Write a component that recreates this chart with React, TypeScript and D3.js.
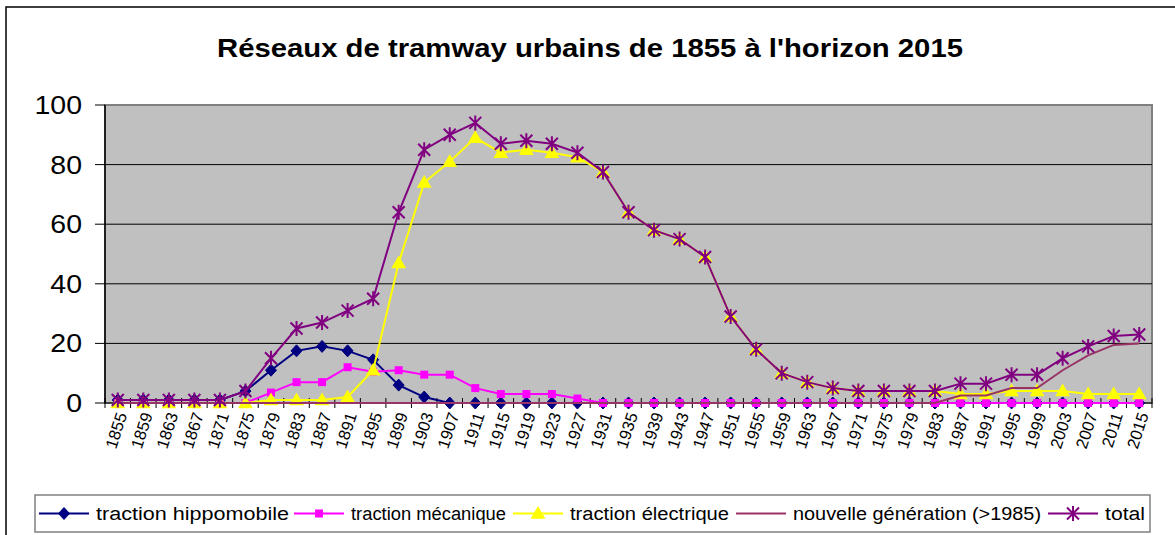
import React from "react";
import * as d3 from "d3";

const years = [
  "1855", "1859", "1863", "1867", "1871", "1875", "1879", "1883", "1887", "1891",
  "1895", "1899", "1903", "1907", "1911", "1915", "1919", "1923", "1927", "1931",
  "1935", "1939", "1943", "1947", "1951", "1955", "1959", "1963", "1967", "1971",
  "1975", "1979", "1983", "1987", "1991", "1995", "1999", "2003", "2007", "2011", "2015",
];

const hippomobile = [
  1, 1, 1, 1, 1, 4, 11, 17.5, 19, 17.5,
  14.5, 6, 2, 0, 0, 0, 0, 0, 0, 0,
  0, 0, 0, 0, 0, 0, 0, 0, 0, 0,
  0, 0, 0, 0, 0, 0, 0, 0, 0, 0, 0,
];
const mecanique = [
  0, 0, 0, 0, 0, 0, 3.5, 7, 7, 12,
  10.5, 11, 9.5, 9.5, 5, 3, 3, 3, 1.5, 0,
  0, 0, 0, 0, 0, 0, 0, 0, 0, 0,
  0, 0, 0, 0, 0, 0, 0, 0, 0, 0, 0,
];
const electrique = [
  0, 0, 0, 0, 0, 0, 1, 1, 1, 2,
  11, 47, 74, 81, 89, 84, 85, 84, 82.5, 77.5,
  64, 58, 55, 49, 29, 18, 10, 7, 5, 4,
  4, 4, 4, 3, 3, 4, 4, 4, 3, 3, 3,
];
const nouvelle = [
  0, 0, 0, 0, 0, 0, 0, 0, 0, 0,
  0, 0, 0, 0, 0, 0, 0, 0, 0, 0,
  0, 0, 0, 0, 0, 0, 0, 0, 0, 0,
  0, 0, 0, 2.5, 2.5, 5, 5, 11, 16, 19.5, 20,
];
const total = [
  1, 1, 1, 1, 1, 4, 15, 25, 27, 31,
  35, 64, 85, 90, 94, 87, 88, 87, 84, 77.5,
  64, 58, 55, 49, 29, 18, 10, 7, 5, 4,
  4, 4, 4, 6.5, 6.5, 9.5, 9.5, 15, 19, 22.5, 23,
];

const yTicks = [0, 20, 40, 60, 80, 100];

const series = [
  { name: "traction hippomobile", values: hippomobile, color: "#000080", marker: "diamond" },
  { name: "traction mécanique", values: mecanique, color: "#FF00FF", marker: "square" },
  { name: "traction électrique", values: electrique, color: "#FFFF00", marker: "triangle" },
  { name: "nouvelle génération (>1985)", values: nouvelle, color: "#993366", marker: "none" },
  { name: "total", values: total, color: "#800080", marker: "star" },
];

// legend layout: start of sample line, text width
const legendPos = [
  { x: 39, w: 193 },
  { x: 294, w: 155 },
  { x: 513, w: 159 },
  { x: 736, w: 248 },
  { x: 1048, w: 40 },
];

const font = "'Liberation Sans', Arial, sans-serif";

function Marker({ type, color }: { type: string; color: string }) {
  if (type === "diamond")
    return <path d="M0,-6L5.5,0L0,6L-5.5,0Z" fill={color} stroke={color} strokeWidth={1} />;
  if (type === "square") return <rect x={-4} y={-4} width={8} height={8} fill={color} />;
  if (type === "triangle")
    return <path d={d3.symbol(d3.symbolTriangle, 95)() || ""} fill={color} transform="translate(0,1)" />;
  if (type === "star")
    return (
      <path
        d="M-6,-6L6,6M-6,6L6,-6M0,-7.5L0,7.5"
        stroke={color}
        strokeWidth={2}
        fill="none"
      />
    );
  return null;
}

export default function App() {
  const width = 1175;
  const height = 535;
  const plot = { left: 105, right: 1152, top: 105, bottom: 403 };

  const x = d3.scaleBand().domain(years).range([plot.left, plot.right]);
  const y = d3.scaleLinear().domain([0, 100]).range([plot.bottom, plot.top]);
  const cx = (yr: string) => (x(yr) || 0) + x.bandwidth() / 2;

  const line = d3
    .line<number>()
    .x((_, i) => cx(years[i]))
    .y((d) => y(d));

  const boundaries = years.map((yr) => x(yr) || 0).concat([plot.right]);

  return (
    <svg width={width} height={height} style={{ position: "absolute", left: 0, top: 0 }}>
      <rect x={0} y={0} width={width} height={height} fill="#fff" />
      <rect x={6} y={7} width={width + 20} height={height + 20} fill="none" stroke="#000" strokeWidth={1.5} />

      <text
        x={590}
        y={57}
        textAnchor="middle"
        fontFamily={font}
        fontWeight="bold"
        fontSize={26}
        textLength={746}
        lengthAdjust="spacingAndGlyphs"
      >
        Réseaux de tramway urbains de 1855 à l'horizon 2015
      </text>

      {/* plot area */}
      <rect
        x={plot.left}
        y={plot.top}
        width={plot.right - plot.left}
        height={plot.bottom - plot.top}
        fill="#C0C0C0"
        stroke="#808080"
        strokeWidth={2}
      />
      {yTicks.map((t) => (
        <g key={t}>
          {t > 0 && t < 100 && (
            <line x1={plot.left} x2={plot.right} y1={y(t)} y2={y(t)} stroke="#000" strokeWidth={1} />
          )}
          <line x1={plot.left - 10} x2={plot.left} y1={y(t)} y2={y(t)} stroke="#000" strokeWidth={1} />
          <text
            x={82}
            y={y(t)}
            dy="0.36em"
            textAnchor="end"
            fontFamily={font}
            fontSize={25}
            transform={`translate(82,0) scale(1.14,1) translate(-82,0)`}
          >
            {t}
          </text>
        </g>
      ))}
      <line x1={plot.left} x2={plot.left} y1={plot.top} y2={plot.bottom} stroke="#000" strokeWidth={1.5} />
      <line x1={plot.left} x2={plot.right} y1={plot.bottom} y2={plot.bottom} stroke="#000" strokeWidth={1} />
      {boundaries.map((bx, i) => (
        <line key={i} x1={bx} x2={bx} y1={plot.bottom - 5} y2={plot.bottom + 5} stroke="#000" strokeWidth={1} />
      ))}
      {years.map((yr) => (
        <text
          key={yr}
          transform={`translate(${cx(yr) + 4},${plot.bottom + 10}) rotate(-72)`}
          textAnchor="end"
          dy="0.35em"
          fontFamily={font}
          fontSize={16.5}
        >
          {yr}
        </text>
      ))}

      {series.map((s) => (
        <g key={s.name}>
          <path d={line(s.values) || ""} fill="none" stroke={s.color} strokeWidth={2} />
          {s.marker !== "none" &&
            s.values.map((v, i) => (
              <g key={i} transform={`translate(${cx(years[i])},${y(v)})`}>
                <Marker type={s.marker} color={s.color} />
              </g>
            ))}
        </g>
      ))}

      {/* legend */}
      <rect x={35} y={495} width={1115} height={37} fill="#fff" stroke="#808080" strokeWidth={1.5} />
      {series.map((s, i) => {
        const p = legendPos[i];
        const my = 513.5;
        return (
          <g key={s.name}>
            <line x1={p.x} x2={p.x + 50} y1={my} y2={my} stroke={s.color} strokeWidth={2} />
            <g transform={`translate(${p.x + 25},${my})`}>
              <Marker type={s.marker} color={s.color} />
            </g>
            <text
              x={p.x + 57}
              y={my}
              dy="0.36em"
              fontFamily={font}
              fontSize={18}
              textLength={p.w}
              lengthAdjust="spacingAndGlyphs"
            >
              {s.name}
            </text>
          </g>
        );
      })}
    </svg>
  );
}
